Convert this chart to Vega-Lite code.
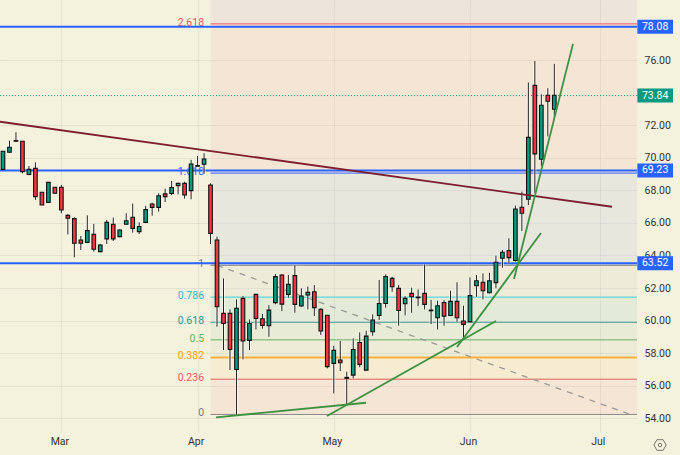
{
  "$schema": "https://vega.github.io/schema/vega-lite/v6.json",
  "description": "Daily candles with Fibonacci retracement, horizontal levels and trend lines.",
  "autosize": "none",
  "padding": {"left": 0, "top": 0, "right": 43, "bottom": 23},
  "width": 637,
  "height": 432,
  "background": "#f4f1dd",
  "config": {
    "view": {"stroke": null},
    "font": "Roboto",
    "axis": {"labelFont": "Roboto", "labelFontSize": 10.5, "labelColor": "#333333", "domain": false, "ticks": false, "title": null, "gridColor": "#787b86", "gridOpacity": 0.12, "gridWidth": 1}
  },
  "datasets": {
    "candles": [
      {"bar":0,"open":69.30,"high":70.43,"low":69.26,"close":70.41},
      {"bar":1,"open":70.35,"high":71.07,"low":70.33,"close":70.66},
      {"bar":2,"open":71.07,"high":71.58,"low":71.03,"close":71.03},
      {"bar":3,"open":71.03,"high":71.03,"low":69.06,"close":69.16},
      {"bar":4,"open":68.98,"high":69.51,"low":68.93,"close":69.30},
      {"bar":5,"open":69.36,"high":69.73,"low":67.42,"close":67.62},
      {"bar":6,"open":67.89,"high":67.89,"low":67.11,"close":67.11},
      {"bar":7,"open":67.27,"high":68.50,"low":67.27,"close":68.50},
      {"bar":8,"open":68.20,"high":68.20,"low":67.83,"close":67.83},
      {"bar":9,"open":68.20,"high":68.34,"low":66.60,"close":66.80},
      {"bar":10,"open":66.47,"high":66.55,"low":65.30,"close":66.29},
      {"bar":11,"open":66.27,"high":66.35,"low":63.89,"close":64.75},
      {"bar":12,"open":64.95,"high":65.20,"low":64.34,"close":64.75},
      {"bar":13,"open":64.81,"high":66.47,"low":64.79,"close":65.53},
      {"bar":14,"open":65.30,"high":65.94,"low":64.24,"close":64.38},
      {"bar":15,"open":64.24,"high":64.71,"low":64.20,"close":64.65},
      {"bar":16,"open":65.02,"high":66.19,"low":64.71,"close":66.04},
      {"bar":17,"open":65.92,"high":66.33,"low":64.89,"close":65.02},
      {"bar":18,"open":65.16,"high":65.61,"low":65.12,"close":65.57},
      {"bar":19,"open":65.92,"high":66.60,"low":65.90,"close":66.14},
      {"bar":20,"open":66.35,"high":67.19,"low":65.41,"close":65.67},
      {"bar":21,"open":65.47,"high":66.04,"low":65.32,"close":65.78},
      {"bar":22,"open":66.04,"high":67.05,"low":66.02,"close":66.82},
      {"bar":23,"open":67.17,"high":67.25,"low":66.45,"close":66.96},
      {"bar":24,"open":66.96,"high":67.83,"low":66.70,"close":67.68},
      {"bar":25,"open":67.79,"high":68.11,"low":67.29,"close":67.62},
      {"bar":26,"open":67.81,"high":68.59,"low":67.72,"close":68.18},
      {"bar":27,"open":68.30,"high":68.44,"low":67.76,"close":68.44},
      {"bar":28,"open":68.44,"high":68.54,"low":67.50,"close":67.72},
      {"bar":29,"open":67.99,"high":69.88,"low":67.46,"close":69.63},
      {"bar":30,"open":69.53,"high":70.12,"low":69.49,"close":69.49},
      {"bar":31,"open":69.61,"high":70.29,"low":69.02,"close":69.94},
      {"bar":32,"open":68.34,"high":68.44,"low":64.71,"close":65.36},
      {"bar":33,"open":64.95,"high":65.16,"low":59.62,"close":60.85},
      {"bar":34,"open":60.44,"high":62.59,"low":58.18,"close":59.82},
      {"bar":35,"open":60.44,"high":60.69,"low":56.95,"close":58.22},
      {"bar":36,"open":56.99,"high":61.30,"low":54.18,"close":60.75},
      {"bar":37,"open":61.36,"high":61.51,"low":57.61,"close":58.74},
      {"bar":38,"open":58.78,"high":60.07,"low":58.18,"close":59.82},
      {"bar":39,"open":61.61,"high":61.61,"low":59.45,"close":60.13},
      {"bar":40,"open":60.11,"high":60.40,"low":59.50,"close":59.70},
      {"bar":41,"open":59.68,"high":60.95,"low":59.00,"close":60.64},
      {"bar":42,"open":61.10,"high":62.86,"low":61.00,"close":62.70},
      {"bar":43,"open":62.80,"high":62.86,"low":60.58,"close":61.01},
      {"bar":44,"open":61.61,"high":62.80,"low":61.40,"close":62.22},
      {"bar":45,"open":62.76,"high":63.41,"low":60.48,"close":60.99},
      {"bar":46,"open":60.89,"high":61.98,"low":60.85,"close":61.51},
      {"bar":47,"open":61.57,"high":62.08,"low":60.69,"close":61.73},
      {"bar":48,"open":61.77,"high":62.18,"low":60.28,"close":60.79},
      {"bar":49,"open":60.69,"high":60.75,"low":59.11,"close":59.35},
      {"bar":50,"open":60.32,"high":60.32,"low":57.05,"close":57.16},
      {"bar":51,"open":57.36,"high":58.45,"low":55.52,"close":58.16},
      {"bar":52,"open":57.57,"high":58.74,"low":56.89,"close":57.40},
      {"bar":53,"open":56.50,"high":56.85,"low":54.84,"close":56.44},
      {"bar":54,"open":56.64,"high":58.90,"low":56.44,"close":58.22},
      {"bar":55,"open":58.65,"high":59.27,"low":57.12,"close":57.30},
      {"bar":56,"open":56.95,"high":59.37,"low":56.91,"close":59.04},
      {"bar":57,"open":59.31,"high":60.38,"low":59.06,"close":60.03},
      {"bar":58,"open":60.31,"high":62.49,"low":60.03,"close":61.05},
      {"bar":59,"open":61.05,"high":62.84,"low":60.79,"close":62.71},
      {"bar":60,"open":62.59,"high":62.69,"low":61.77,"close":62.08},
      {"bar":61,"open":61.98,"high":62.18,"low":59.68,"close":60.62},
      {"bar":62,"open":61.03,"high":61.50,"low":60.31,"close":61.36},
      {"bar":63,"open":61.67,"high":62.02,"low":60.48,"close":61.46},
      {"bar":64,"open":61.44,"high":61.91,"low":60.89,"close":61.40},
      {"bar":65,"open":61.67,"high":63.45,"low":60.68,"close":60.99},
      {"bar":66,"open":60.64,"high":61.26,"low":59.78,"close":60.60},
      {"bar":67,"open":60.17,"high":61.22,"low":59.45,"close":60.91},
      {"bar":68,"open":61.11,"high":61.26,"low":59.68,"close":60.27},
      {"bar":69,"open":60.31,"high":61.83,"low":60.27,"close":61.18},
      {"bar":70,"open":61.18,"high":62.35,"low":59.93,"close":60.17},
      {"bar":71,"open":59.97,"high":60.91,"low":58.86,"close":59.76},
      {"bar":72,"open":59.93,"high":62.65,"low":59.93,"close":61.53},
      {"bar":73,"open":62.14,"high":62.80,"low":61.46,"close":62.45},
      {"bar":74,"open":62.35,"high":62.90,"low":61.30,"close":61.83},
      {"bar":75,"open":61.71,"high":62.94,"low":61.67,"close":62.45},
      {"bar":76,"open":62.33,"high":63.99,"low":61.98,"close":63.58},
      {"bar":77,"open":63.83,"high":64.34,"low":63.25,"close":64.20},
      {"bar":78,"open":64.30,"high":65.06,"low":63.52,"close":63.87},
      {"bar":79,"open":63.69,"high":67.07,"low":63.62,"close":66.86},
      {"bar":80,"open":66.97,"high":67.93,"low":65.51,"close":66.60},
      {"bar":81,"open":67.46,"high":74.64,"low":67.11,"close":71.27},
      {"bar":82,"open":74.47,"high":75.97,"low":67.87,"close":70.25},
      {"bar":83,"open":69.92,"high":73.92,"low":69.51,"close":73.24},
      {"bar":84,"open":73.86,"high":74.29,"low":71.32,"close":73.49},
      {"bar":85,"open":73.00,"high":75.79,"low":72.34,"close":73.86}
    ],
    "zones": [
      {"zone":"a","top":79.72,"bottom":78.25},
      {"zone":"b","top":78.25,"bottom":69.07},
      {"zone":"c","top":69.07,"bottom":63.40},
      {"zone":"d","top":63.40,"bottom":61.44},
      {"zone":"e","top":61.44,"bottom":59.89},
      {"zone":"f","top":59.89,"bottom":58.81},
      {"zone":"g","top":58.81,"bottom":57.73},
      {"zone":"h","top":57.73,"bottom":56.39},
      {"zone":"i","top":56.39,"bottom":54.22}
    ],
    "levels": [
      {"level":"2.618","price":78.25},
      {"level":"1.618","price":69.07},
      {"level":"1","price":63.40},
      {"level":"0.786","price":61.44},
      {"level":"0.618","price":59.89},
      {"level":"0.5","price":58.81},
      {"level":"0.382","price":57.73},
      {"level":"0.236","price":56.39},
      {"level":"0","price":54.22}
    ],
    "prices": [
      {"label":"78.08","price":78.08,"kind":"level"},
      {"label":"73.84","price":73.84,"kind":"last"},
      {"label":"69.23","price":69.23,"kind":"level"},
      {"label":"63.52","price":63.52,"kind":"level"}
    ],
    "lines": [
      {"line":"resistance","bar":-0.46,"price":72.23},
      {"line":"resistance","bar":93.9,"price":67.0},
      {"line":"a","bar":32.84,"price":54.04},
      {"line":"a","bar":55.97,"price":54.94},
      {"line":"b","bar":49.95,"price":54.12},
      {"line":"b","bar":76.01,"price":59.97},
      {"line":"c","bar":70.0,"price":58.37},
      {"line":"c","bar":82.95,"price":65.38},
      {"line":"d","bar":78.79,"price":62.55},
      {"line":"d","bar":87.88,"price":77.02}
    ],
    "fibline": [
      {"bar":33,"price":63.4},
      {"bar":96.7,"price":54.22}
    ]
  },
  "resolve": {"scale": {"color": "independent"}},
  "layer": [
    {
      "data": {"name": "zones"},
      "mark": {"type": "rect", "opacity": 0.2},
      "encoding": {
        "x": {
          "datum": 32,
          "type": "quantitative",
          "scale": {"domain": [-0.46, 97.75], "nice": false, "zero": false, "padding": 0},
          "axis": {"values": [9, 30, 51, 72, 92], "labelExpr": "datum.value==9?'Mar':datum.value==30?'Apr':datum.value==51?'May':datum.value==72?'Jun':'Jul'", "labelPadding": 4, "labelOffset": -2, "grid": true, "labelOverlap": false}
        },
        "x2": {"datum": 97.75},
        "y": {
          "field": "top",
          "type": "quantitative",
          "scale": {"domain": [53.14, 79.72], "nice": false, "zero": false},
          "axis": {"orient": "right", "values": [54, 56, 58, 60, 62, 64, 66, 68, 70, 72, 76], "format": ".2f", "labelPadding": 7, "grid": true, "labelOverlap": false}
        },
        "y2": {"field": "bottom"},
        "fill": {
          "field": "zone",
          "type": "nominal",
          "legend": null,
          "scale": {
            "domain": ["a", "b", "c", "d", "e", "f", "g", "h", "i"],
            "range": ["#d1b5d8", "#f9bab5", "#b8c4e7", "#d6d8c9", "#9fd8c9", "#b8ddc4", "#ccddc4", "#ffddab", "#f9bab5"]
          }
        }
      }
    },
    {
      "data": {"name": "levels"},
      "mark": {"type": "rule"},
      "encoding": {
        "x": {"datum": 32, "type": "quantitative"},
        "x2": {"datum": 97.75},
        "y": {"field": "price", "type": "quantitative"},
        "strokeWidth": {"condition": {"test": "datum.level=='0.382'", "value": 2}, "value": 1},
        "color": {
          "field": "level",
          "type": "nominal",
          "legend": null,
          "scale": {
            "domain": ["2.618", "1.618", "1", "0.786", "0.618", "0.5", "0.382", "0.236", "0"],
            "range": ["#f2555a", "#2962ff", "#787b86", "#3fd0dc", "#4a9a90", "#66b266", "#f9b03f", "#e0605a", "#8a8a8a"]
          }
        }
      }
    },
    {
      "data": {"name": "levels"},
      "mark": {"type": "text", "align": "right", "baseline": "middle", "dy": -1, "fontSize": 10.5},
      "encoding": {
        "x": {"datum": 31, "type": "quantitative"},
        "y": {"field": "price", "type": "quantitative"},
        "text": {"field": "level"},
        "color": {
          "field": "level",
          "type": "nominal",
          "legend": null,
          "scale": {
            "domain": ["2.618", "1.618", "1", "0.786", "0.618", "0.5", "0.382", "0.236", "0"],
            "range": ["#f2555a", "#2962ff", "#787b86", "#26b8c8", "#1f9a8a", "#5cb85c", "#f9a020", "#f2555a", "#787b86"]
          }
        }
      }
    },
    {
      "data": {"name": "fibline"},
      "mark": {"type": "line", "color": "#9a9a98", "strokeWidth": 1.3, "strokeDash": [6, 6]},
      "encoding": {
        "x": {"field": "bar", "type": "quantitative"},
        "y": {"field": "price", "type": "quantitative"}
      }
    },
    {
      "data": {"name": "prices"},
      "transform": [{"filter": "datum.kind=='level'"}],
      "mark": {"type": "rule", "color": "#2962ff", "strokeWidth": 2},
      "encoding": {"y": {"field": "price", "type": "quantitative"}}
    },
    {
      "data": {"name": "prices"},
      "transform": [{"filter": "datum.kind=='last'"}],
      "mark": {"type": "rule", "color": "#089981", "strokeWidth": 1, "strokeDash": [1, 2]},
      "encoding": {"y": {"field": "price", "type": "quantitative"}}
    },
    {
      "data": {"name": "candles"},
      "mark": {"type": "rule", "color": "#ffffff", "strokeWidth": 3, "opacity": 0.55},
      "encoding": {
        "x": {"field": "bar", "type": "quantitative"},
        "y": {"field": "high", "type": "quantitative"},
        "y2": {"field": "low"}
      }
    },
    {
      "data": {"name": "candles"},
      "mark": {"type": "rule", "color": "#222222", "strokeWidth": 1},
      "encoding": {
        "x": {"field": "bar", "type": "quantitative"},
        "y": {"field": "high", "type": "quantitative"},
        "y2": {"field": "low"}
      }
    },
    {
      "data": {"name": "candles"},
      "mark": {"type": "bar", "size": 3.6, "stroke": "#111111", "strokeWidth": 1.1},
      "encoding": {
        "x": {"field": "bar", "type": "quantitative"},
        "y": {"field": "open", "type": "quantitative"},
        "y2": {"field": "close"},
        "fill": {"condition": {"test": "datum.close>=datum.open", "value": "#089981"}, "value": "#f23645"}
      }
    },
    {
      "data": {"name": "lines"},
      "mark": {"type": "line", "strokeWidth": 1.8},
      "encoding": {
        "x": {"field": "bar", "type": "quantitative"},
        "y": {"field": "price", "type": "quantitative"},
        "detail": {"field": "line"},
        "color": {"condition": {"test": "datum.line=='resistance'", "value": "#7c1f30"}, "value": "#3f9142"}
      }
    },
    {
      "data": {"name": "prices"},
      "mark": {"type": "rule", "strokeWidth": 14},
      "encoding": {
        "x": {"datum": 97.8, "type": "quantitative"},
        "x2": {"datum": 103.3},
        "y": {"field": "price", "type": "quantitative"},
        "color": {"condition": {"test": "datum.kind=='last'", "value": "#089981"}, "value": "#2962ff"}
      }
    },
    {
      "data": {"name": "prices"},
      "mark": {"type": "text", "color": "#ffffff", "fontSize": 10.5, "align": "center", "baseline": "middle"},
      "encoding": {
        "x": {"datum": 100.55, "type": "quantitative"},
        "y": {"field": "price", "type": "quantitative"},
        "text": {"field": "label"}
      }
    },
    {
      "data": {"values": [{"icon": "settings"}]},
      "mark": {"type": "point", "shape": "M-1,0L-0.5,-0.87L0.5,-0.87L1,0L0.5,0.87L-0.5,0.87Z", "size": 150, "stroke": "#444444", "strokeWidth": 1, "filled": false},
      "encoding": {
        "x": {"datum": 101.3, "type": "quantitative"},
        "y": {"datum": 52.34, "type": "quantitative"}
      }
    },
    {
      "data": {"values": [{"icon": "settings"}]},
      "mark": {"type": "point", "shape": "circle", "size": 12, "stroke": "#444444", "strokeWidth": 1, "filled": false},
      "encoding": {
        "x": {"datum": 101.3, "type": "quantitative"},
        "y": {"datum": 52.34, "type": "quantitative"}
      }
    }
  ]
}
